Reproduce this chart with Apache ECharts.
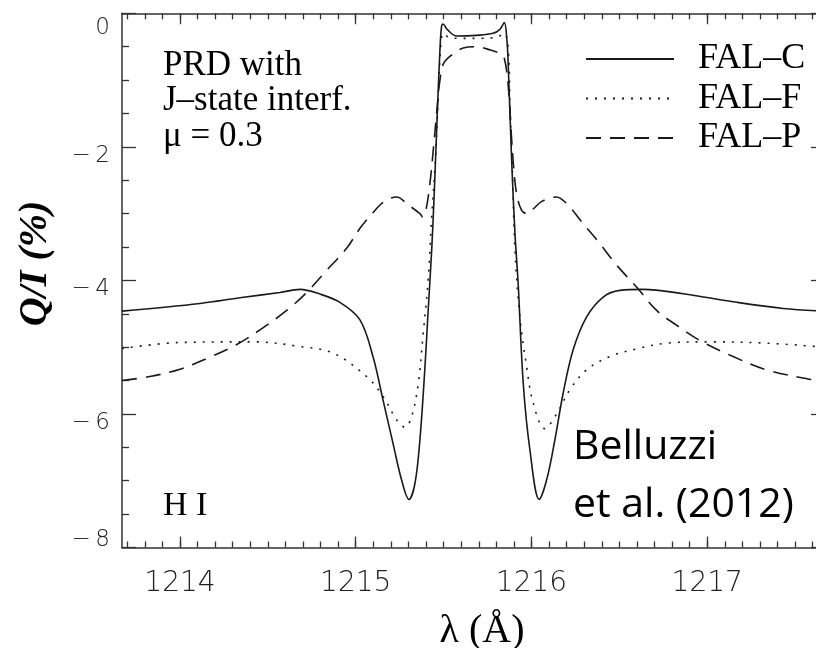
<!DOCTYPE html>
<html>
<head>
<meta charset="utf-8">
<script src="https://cdn.jsdelivr.net/npm/echarts@6/dist/echarts.min.js"></script>
<style>
  html, body { margin: 0; padding: 0; background: #fff; }
  #chart { width: 816px; height: 648px; }
</style>
</head>
<body>
<div id="chart"></div>
<script>
  // wavelength (Å) and Q/I (%), one pair of arrays per model
  const wlFalC = [1213.67, 1214.114, 1214.341, 1214.569, 1214.683, 1214.796, 1214.910, 1215.024, 1215.098, 1215.155,
    1215.212, 1215.261, 1215.303, 1215.337, 1215.365, 1215.394, 1215.412, 1215.432, 1215.445, 1215.456,
    1215.467, 1215.479, 1215.488, 1215.497, 1215.520, 1215.574, 1215.687, 1215.782, 1215.820, 1215.845,
    1215.860, 1215.868, 1215.887, 1215.906, 1215.924, 1215.953, 1215.991, 1216.044, 1216.086, 1216.133,
    1216.180, 1216.237, 1216.313, 1216.408, 1216.503, 1216.635, 1216.863, 1217.147, 1217.432, 1217.669]
  const qiFalC = [-4.46, -4.345, -4.26, -4.18, -4.135, -4.205, -4.33, -4.59, -5.14, -5.79,
    -6.44, -6.99, -7.28, -7.04, -6.39, -5.29, -4.45, -3.55, -2.8, -2.05,
    -1.3, -0.55, -0.2, -0.16, -0.24, -0.34, -0.33, -0.30, -0.24, -0.14,
    -0.4, -0.8, -2.2, -3.3, -4.04, -5.54, -6.54, -7.28, -6.99, -6.39,
    -5.69, -5.04, -4.55, -4.25, -4.15, -4.135, -4.2, -4.32, -4.42, -4.46]

  const wlFalF = [1213.67, 1214.0, 1214.417, 1214.683, 1214.872, 1215.062, 1215.156, 1215.233, 1215.280, 1215.318,
    1215.356, 1215.384, 1215.412, 1215.432, 1215.451, 1215.470, 1215.485, 1215.497, 1215.530, 1215.600,
    1215.700, 1215.800, 1215.845, 1215.868, 1215.878, 1215.887, 1215.906, 1215.934, 1215.972, 1216.010,
    1216.076, 1216.143, 1216.218, 1216.313, 1216.446, 1216.607, 1216.768, 1217.015, 1217.337, 1217.669]
  const qiFalF = [-5.02, -4.93, -4.92, -4.99, -5.09, -5.44, -5.74, -6.09, -6.2, -6.04,
    -5.54, -4.79, -4.0, -3.05, -2.3, -1.2, -0.45, -0.3, -0.36, -0.375,
    -0.375, -0.36, -0.3, -0.55, -1.45, -2.0, -3.55, -4.55, -5.29, -5.84,
    -6.22, -6.0, -5.64, -5.34, -5.14, -5.02, -4.94, -4.92, -4.94, -5.0]

  const wlFalP = [1213.67, 1213.829, 1214.0, 1214.152, 1214.323, 1214.455, 1214.607, 1214.721, 1214.834, 1214.948,
    1215.024, 1215.100, 1215.156, 1215.233, 1215.299, 1215.365, 1215.381, 1215.399, 1215.422,
    1215.441, 1215.460, 1215.479, 1215.500, 1215.545, 1215.611, 1215.687, 1215.767, 1215.820, 1215.845,
    1215.868, 1215.893, 1215.915, 1215.944, 1215.975, 1216.010, 1216.057, 1216.143, 1216.200, 1216.294,
    1216.389, 1216.484, 1216.598, 1216.712, 1216.825, 1216.958, 1217.147, 1217.337, 1217.602, 1217.669]
  const qiFalP = [-5.5, -5.44, -5.33, -5.17, -4.96, -4.74, -4.45, -4.18, -3.85, -3.52,
    -3.22, -2.98, -2.83, -2.75, -2.87, -3.0, -3.05, -2.95, -2.55,
    -2.05, -1.5, -1.0, -0.75, -0.625, -0.52, -0.5, -0.55, -0.6, -0.67,
    -1.1, -2.12, -2.7, -2.95, -3.0, -2.93, -2.82, -2.75, -2.85, -3.15,
    -3.45, -3.77, -4.1, -4.45, -4.67, -4.9, -5.14, -5.34, -5.49, -5.52]

  const seriesNames = ['FAL\u2013C', 'FAL\u2013F', 'FAL\u2013P']
  const xTickLabels = [1214, 1215, 1216, 1217]
  const yTickLabels = [0, -2, -4, -6, -8]

  const xMin = 1213.67
  const xMax = 1217.67
  // minor ticks every 0.1 Å
  const xMinorTicks = []
  for (let i = 1214 * 10 - 3; i <= 1217 * 10 + 6; i++) {
    xMinorTicks.push(i / 10)
  }

  const ink = '#1a1a1a'
  const axisInk = '#333'
  const tickFont = {fontFamily: 'DejaVu Sans', fontWeight: 200, fontSize: 23, color: '#222'}

  function zip(xs, ys) {
    return xs.map((x, i) => [x, ys[i]])
  }

  function xAxisOf(position, major, showLabel) {
    return {
      type: 'value',
      position: position,
      min: xMin,
      max: xMax,
      splitLine: {show: false},
      axisLine: {show: major, onZero: false, lineStyle: {color: axisInk, width: 1.5}},
      axisTick: {
        show: true,
        inside: true,
        length: major ? 11 : 6,
        customValues: major ? xTickLabels : xMinorTicks,
        lineStyle: {color: axisInk, width: 1.3}
      },
      axisLabel: {
        show: showLabel,
        customValues: xTickLabels,
        margin: 22,
        fontFamily: 'DejaVu Sans',
        fontWeight: 200,
        fontSize: 28,
        color: '#222',
        formatter: v => String(v)
      }
    }
  }

  function yAxisOf(position, showLabel) {
    return {
      type: 'value',
      position: position,
      min: -8,
      max: 0,
      interval: 2,
      splitLine: {show: false},
      axisLine: {show: true, onZero: false, lineStyle: {color: axisInk, width: 1.5}},
      axisTick: {inside: true, length: 14, lineStyle: {color: axisInk, width: 1.3}},
      minorTick: {show: true, splitNumber: 4, length: 7, lineStyle: {color: axisInk, width: 1.3}},
      minorSplitLine: {show: false},
      axisLabel: {
        show: showLabel,
        margin: 12,
        ...tickFont,
        formatter: v => {
          if (v === 0) return '{t|0}'
          const s = '\u2212\u2009' + Math.abs(v)
          return v === -8 ? '{b|' + s + '}' : '{m|' + s + '}'
        },
        rich: {
          t: {...tickFont, padding: [30, 0, 0, 0]},
          m: {...tickFont, padding: [18, 0, 0, 0]},
          b: {...tickFont, padding: [0, 0, 15, 0]}
        }
      }
    }
  }

  const chart = echarts.init(document.getElementById('chart'), null, {renderer: 'canvas'})

  const xAxes = [
    xAxisOf('bottom', true, true),
    xAxisOf('bottom', false, false),
    xAxisOf('top', true, false),
    xAxisOf('top', false, false)
  ]
  xAxes[0].name = '\u03bb (\u00c5)'
  xAxes[0].nameLocation = 'middle'
  xAxes[0].nameGap = 64
  xAxes[0].nameTextStyle = {
    fontFamily: 'Liberation Serif',
    fontSize: 40,
    color: '#000',
    padding: [0, 0, 0, 17]
  }

  const yAxes = [yAxisOf('left', true), yAxisOf('right', false)]
  yAxes[0].name = 'Q/I (%)'
  yAxes[0].nameLocation = 'middle'
  yAxes[0].nameGap = 66
  yAxes[0].nameTextStyle = {
    fontFamily: 'Liberation Serif',
    fontSize: 40,
    fontStyle: 'italic',
    fontWeight: 'bold',
    color: '#000',
    padding: [0, 0, 0, 34]
  }

  const dashes = ['solid', [2, 7], [15, 9]]
  const curves = [zip(wlFalC, qiFalC), zip(wlFalF, qiFalF), zip(wlFalP, qiFalP)]

  chart.setOption({
    animation: false,
    backgroundColor: '#fff',
    grid: {left: 122, right: -9, top: 13.3, bottom: 100.5, containLabel: false, outerBoundsMode: 'none'},
    xAxis: xAxes,
    yAxis: yAxes,
    legend: {
      orient: 'vertical',
      left: 585,
      top: 41,
      padding: 0,
      itemWidth: 88,
      itemHeight: 14,
      itemGap: 3.5,
      itemStyle: {opacity: 0},
      data: seriesNames,
      textStyle: {
        fontFamily: 'Liberation Serif',
        fontSize: 36,
        color: '#000',
        padding: [0, 0, 0, 19]
      }
    },
    graphic: [
      {
        type: 'text',
        left: 163,
        top: 48,
        style: {
          text: 'PRD with\nJ\u2013state interf.\n\u03bc = 0.3',
          fontFamily: 'Liberation Serif',
          fontSize: 35,
          lineHeight: 35.5,
          fill: '#000'
        }
      },
      {
        type: 'text',
        left: 163,
        top: 489,
        style: {
          text: 'H I',
          fontFamily: 'Liberation Serif',
          fontSize: 34,
          fill: '#000'
        }
      },
      {
        type: 'text',
        left: 573,
        top: 419,
        style: {
          text: 'Belluzzi\net al. (2012)',
          fontFamily: 'Open Sans',
          fontSize: 41,
          lineHeight: 57.4,
          fill: '#000'
        }
      }
    ],
    series: seriesNames.map((name, i) => ({
      name: name,
      type: 'line',
      xAxisIndex: 0,
      yAxisIndex: 0,
      data: curves[i],
      symbol: 'none',
      smooth: 0.35,
      lineStyle: {color: ink, width: 1.6, type: dashes[i]},
      itemStyle: {color: ink},
      z: 3 - i
    }))
  })
</script>
</body>
</html>
